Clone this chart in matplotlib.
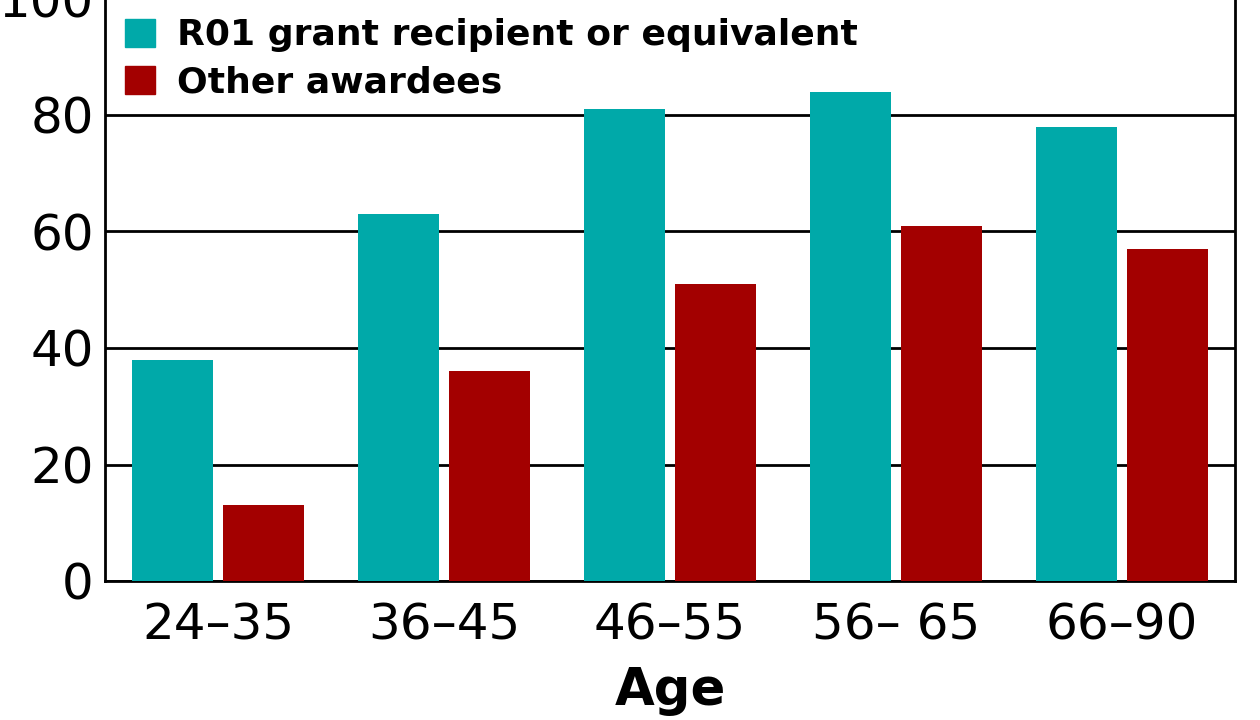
import numpy as np
import matplotlib
matplotlib.use('Agg')
import matplotlib.pyplot as plt
from matplotlib.patches import Patch

age_groups = ['24–35', '36–45', '46–55', '56– 65', '66–90']
r01_values = [38, 63, 81, 84, 78]
other_values = [13, 36, 51, 61, 57]
series_names = ['R01 grant recipient or equivalent', 'Other awardees']
y_ticks = [0, 20, 40, 60, 80, 100]

teal = '#00a9a9'
red = '#a30000'

plt.rcParams['font.family'] = ['DejaVu Sans']

fig = plt.figure(figsize=(12.6, 7.2), dpi=100)
ax = fig.add_axes([105 / 1260, 139 / 720, 1130 / 1260, 582.5 / 720])

x = np.arange(len(age_groups))
w = 0.36
ax.bar(x - 0.2, r01_values, w, color=teal, zorder=3)
ax.bar(x + 0.2, other_values, w, color=red, zorder=3)

ax.set_xlim(-0.5, 4.5)
ax.set_ylim(0, 100)
ax.set_yticks(y_ticks)
ax.set_xticks(x)
ax.set_xticklabels(age_groups)
ax.yaxis.grid(True, color='black', linewidth=2, zorder=0)
ax.tick_params(axis='both', length=0, labelsize=36, colors='black')
ax.tick_params(axis='y', pad=8)
ax.tick_params(axis='x', pad=15)

for side in ['left', 'right', 'bottom', 'top']:
    ax.spines[side].set_color('black')
    ax.spines[side].set_linewidth(2)

ax.set_xlabel('Age', fontsize=37, fontweight='bold', labelpad=12)

handles = [Patch(color=teal), Patch(color=red)]
leg = ax.legend(handles, series_names, loc='upper left', bbox_to_anchor=(0.0, 1.0),
                frameon=False, handlelength=0.83, handleheight=0.83,
                handletextpad=0.62, labelspacing=0.36, borderaxespad=0.15,
                prop={'weight': 'bold', 'size': 26})

fig.savefig('out.png', dpi=100)
